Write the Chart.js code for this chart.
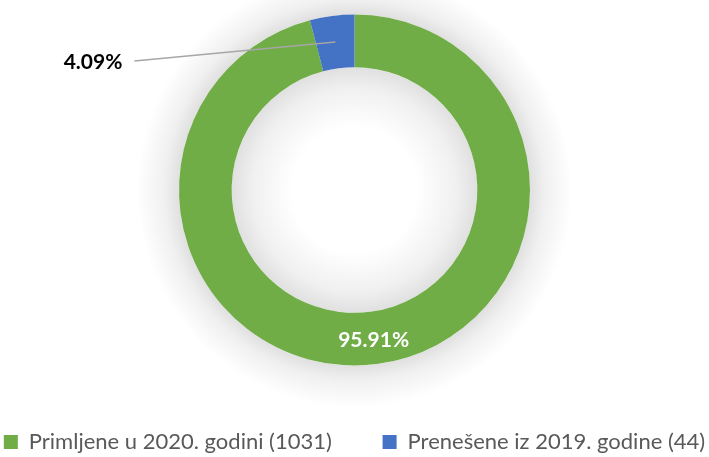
<!DOCTYPE html>
<html>
<head>
<meta charset="utf-8">
<script src="https://cdn.jsdelivr.net/npm/chart.js@4.4.1/dist/chart.umd.min.js"></script>
<style>
  html, body { margin: 0; padding: 0; background: #fff; }
  #wrap { width: 709px; height: 457px; }
</style>
</head>
<body>
<div id="wrap"><canvas id="doughnutChart"></canvas></div>
<script>
// data
var categories = ["Primljene u 2020. godini (1031)", "Prenešene iz 2019. godine (44)"];
var counts = [1031, 44];
var sliceColors = ['#70AD47', '#4472C4'];

var total = counts.reduce(function (a, b) { return a + b; }, 0);
var percentLabels = counts.map(function (v) { return (v / total * 100).toFixed(2) + '%'; });

var legendFontSize = 22;
var legendPad = 0;
var legendGap = 53; // space between first legend text and second box

// soft grey halo round the ring + the two percent labels
var ringExtras = {
  id: 'ringExtras',
  beforeDatasetsDraw: function (chart) {
    var arc = chart.getDatasetMeta(0).data[0];
    var ctx = chart.ctx;
    var R = arc.outerRadius, r = arc.innerRadius;
    ctx.save();
    var g = ctx.createRadialGradient(arc.x, arc.y, R, arc.x, arc.y, R + 42);
    g.addColorStop(0, 'rgba(0,0,0,0.12)');
    g.addColorStop(0.35, 'rgba(0,0,0,0.06)');
    g.addColorStop(1, 'rgba(0,0,0,0)');
    ctx.fillStyle = g;
    ctx.beginPath();
    ctx.arc(arc.x, arc.y, R + 42, 0, Math.PI * 2);
    ctx.arc(arc.x, arc.y, R, 0, Math.PI * 2, true);
    ctx.fill();
    var gi = ctx.createRadialGradient(arc.x, arc.y, r - 60, arc.x, arc.y, r);
    gi.addColorStop(0, 'rgba(0,0,0,0)');
    gi.addColorStop(0.65, 'rgba(0,0,0,0.06)');
    gi.addColorStop(1, 'rgba(0,0,0,0.12)');
    ctx.fillStyle = gi;
    ctx.beginPath();
    ctx.arc(arc.x, arc.y, r, 0, Math.PI * 2);
    ctx.fill();
    ctx.restore();
  },
  afterDatasetsDraw: function (chart) {
    var ctx = chart.ctx;
    var arcs = chart.getDatasetMeta(0).data;
    ctx.save();
    ctx.font = 'bold 21px Lato';
    ctx.textBaseline = 'middle';

    // big slice: label inside the ring
    var a = arcs[0];
    var mid = (a.startAngle + a.endAngle) / 2;
    var r = (a.innerRadius + a.outerRadius) / 2;
    ctx.fillStyle = '#fff';
    ctx.textAlign = 'center';
    ctx.fillText(percentLabels[0], a.x + Math.cos(mid) * r, a.y + Math.sin(mid) * r + 2);

    // small slice: label outside with leader line
    var b = arcs[1];
    mid = (b.startAngle + b.endAngle) / 2;
    r = (b.innerRadius + b.outerRadius) / 2;
    var px = b.x + Math.cos(mid) * r, py = b.y + Math.sin(mid) * r;
    var lx = px - 201, ly = py + 19;
    ctx.strokeStyle = '#A6A6A6';
    ctx.lineWidth = 1.5;
    ctx.beginPath();
    ctx.moveTo(px, py);
    ctx.lineTo(lx, ly);
    ctx.stroke();
    ctx.fillStyle = '#000';
    ctx.textAlign = 'right';
    ctx.fillText(percentLabels[1], lx - 12, ly + 1);
    ctx.restore();
  }
};

var ctxD = document.getElementById("doughnutChart").getContext('2d');
var myDoughnut = new Chart(ctxD, {
  type: 'doughnut',
  data: {
    labels: categories,
    datasets: [{
      data: counts,
      backgroundColor: sliceColors,
      borderWidth: 0,
      hoverOffset: 0
    }]
  },
  options: {
    responsive: true,
    maintainAspectRatio: false,
    animation: false,
    cutout: '70%',
    layout: { padding: { top: 14.5, bottom: 0, left: 0, right: 0 } },
    plugins: {
      tooltip: { enabled: false },
      legend: {
        position: 'bottom',
        maxHeight: 91.5,
        title: {
          display: true,
          text: '',
          font: { size: 1 },
          padding: { top: 442 - 365.5 - legendFontSize / 2 - legendPad - 1.2, bottom: 0 }
        },
        labels: {
          boxWidth: 14,
          boxHeight: 14,
          padding: legendPad,
          color: '#595959',
          font: { family: 'Lato', size: legendFontSize },
          generateLabels: function (chart) {
            var items = Chart.overrides.doughnut.plugins.legend.labels.generateLabels(chart);
            // widen the gap between the two entries, but keep them on one row
            var c = chart.ctx;
            c.save();
            c.font = legendFontSize + 'px Lato';
            var sp = c.measureText('\u00a0').width;
            var used = 0;
            items.forEach(function (it) { used += 14 + legendFontSize / 2 + c.measureText(it.text).width; });
            c.restore();
            var room = chart.width - used - 3 * legendPad - 2;
            var n = Math.floor(Math.min(legendGap - legendPad, room) / sp);
            if (n > 0) items[0].text = items[0].text + new Array(n + 1).join('\u00a0');
            items.forEach(function (it) { it.lineWidth = 0; });
            return items;
          }
        }
      }
    }
  },
  plugins: [ringExtras]
});
</script>
</body>
</html>
